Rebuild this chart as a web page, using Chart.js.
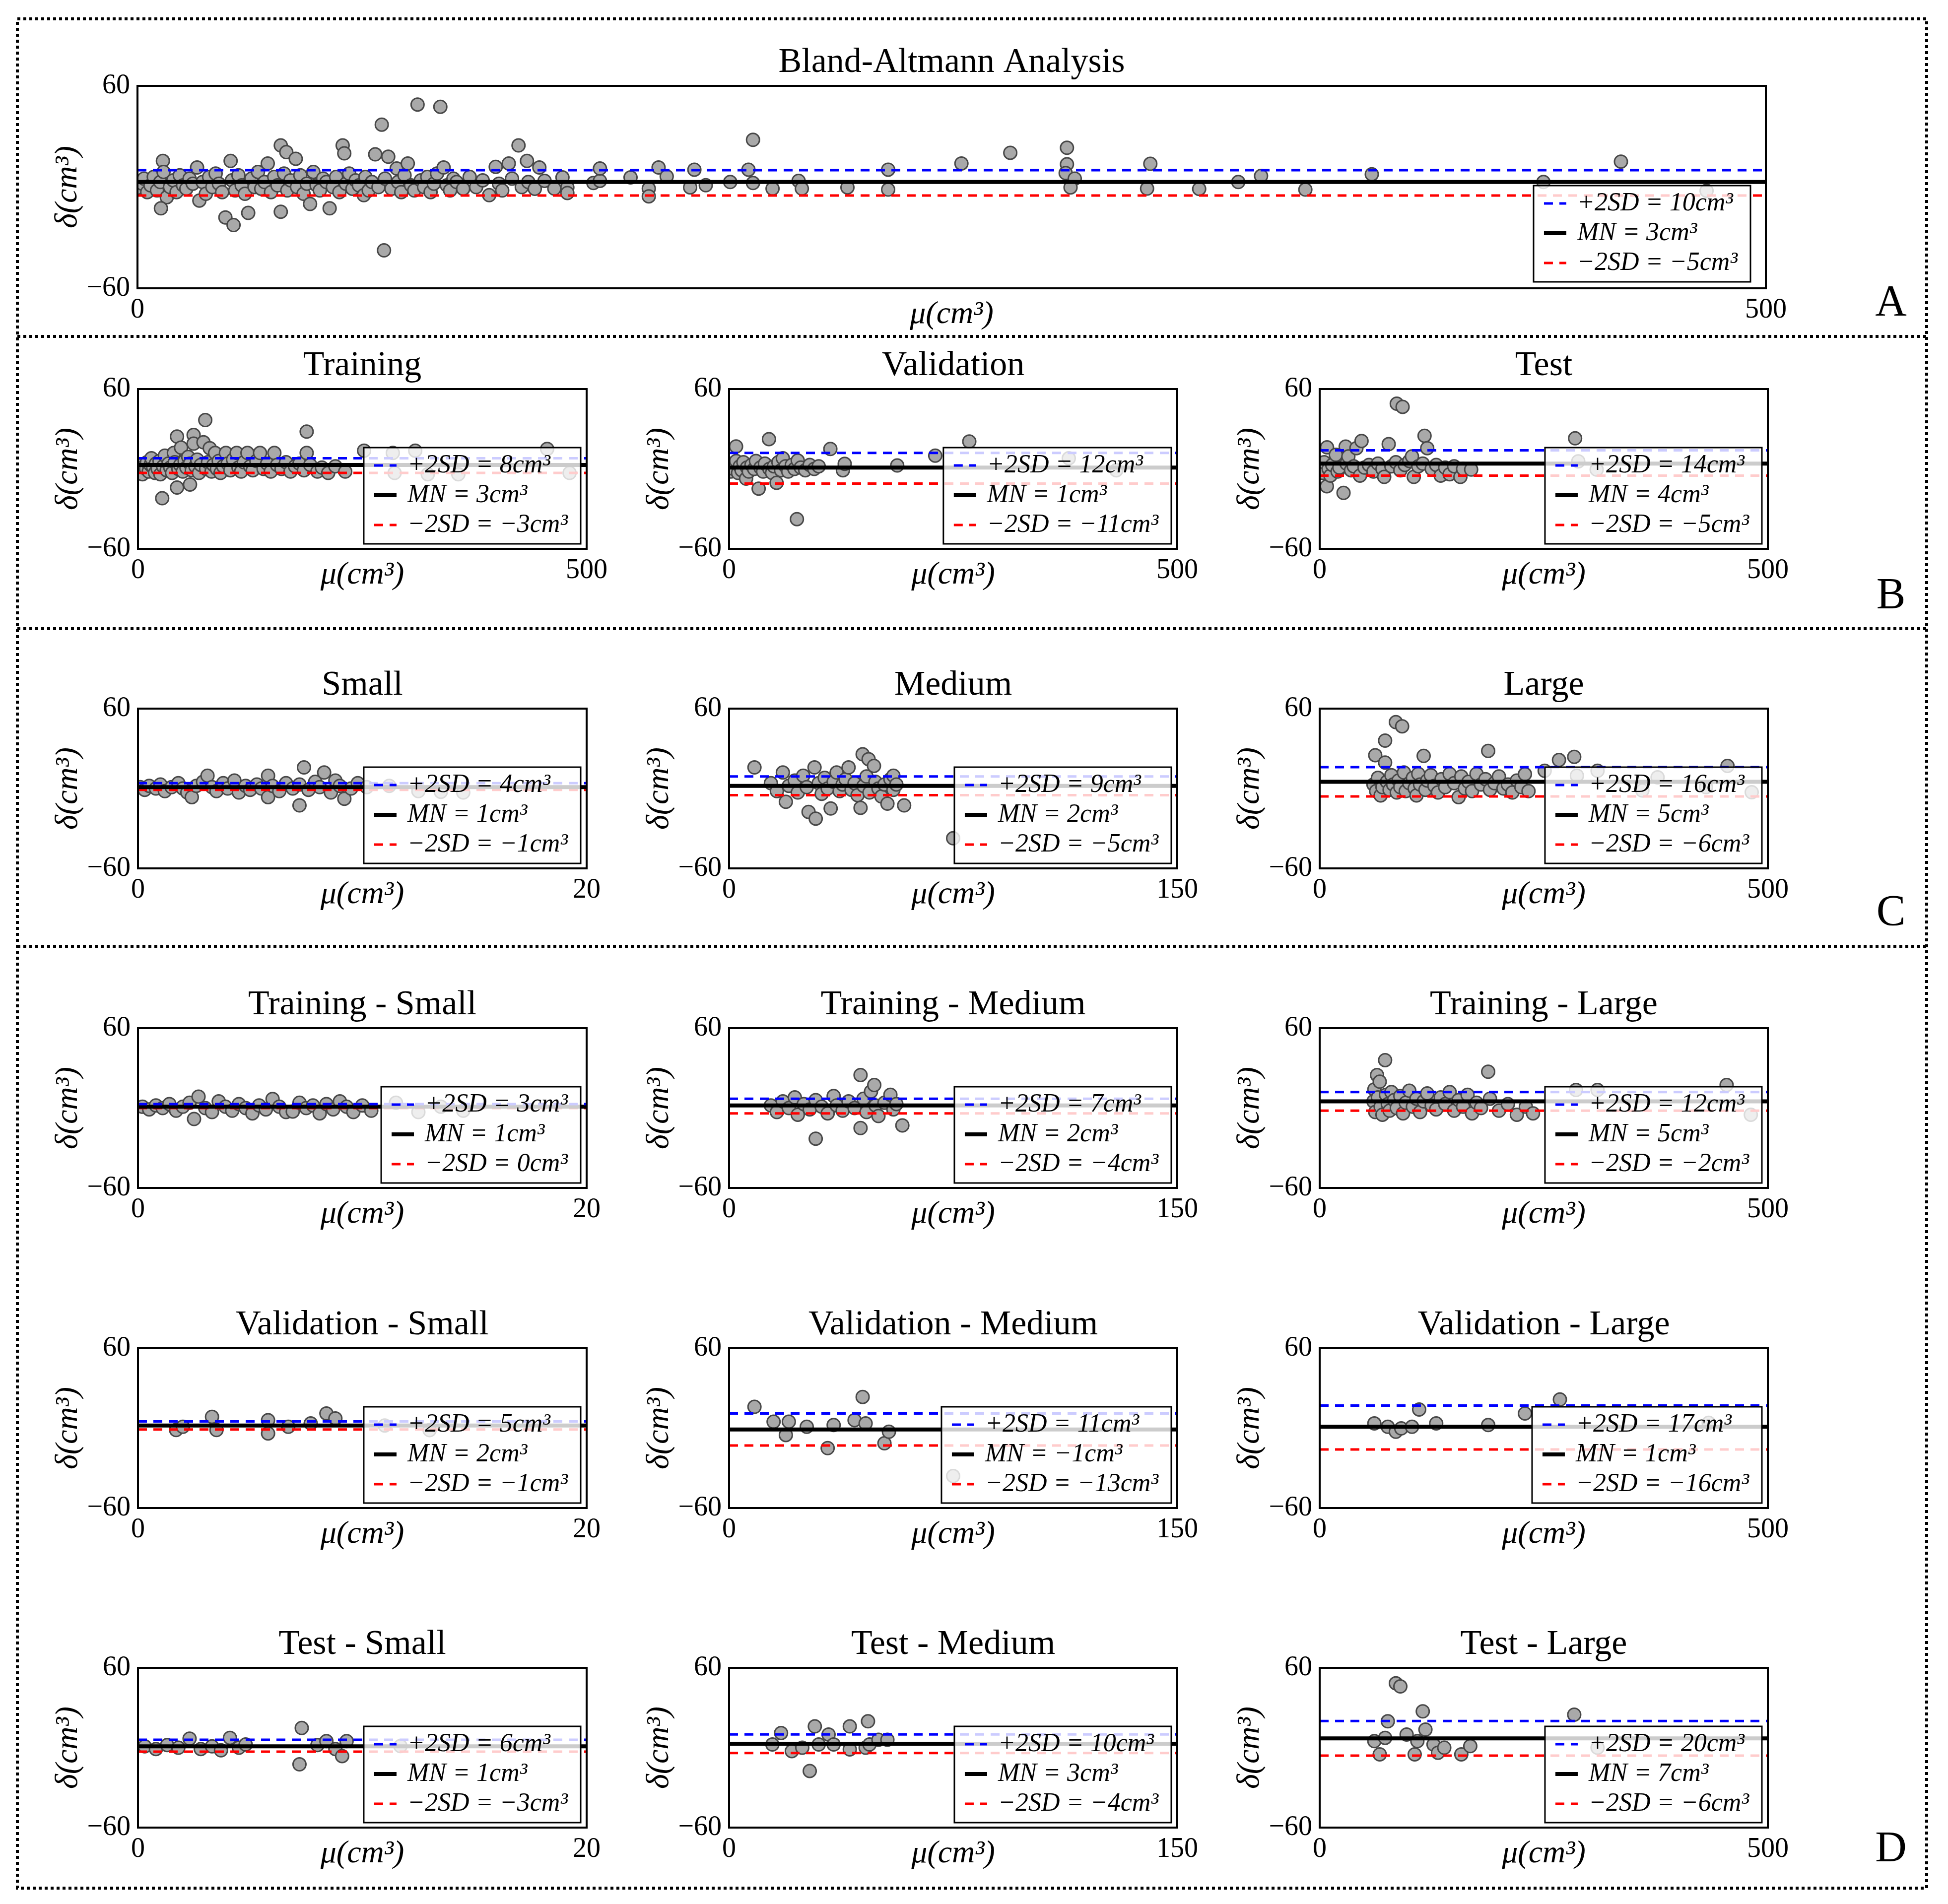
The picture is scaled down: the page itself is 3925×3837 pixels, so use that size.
<!DOCTYPE html>
<html>
<head>
<meta charset="utf-8">
<script src="https://cdn.jsdelivr.net/npm/chart.js@4.4.0/dist/chart.umd.min.js"></script>
<style>
  html, body { margin: 0; padding: 0; background: #fff; }
  #page { position: relative; width: 3925px; height: 3837px; overflow: hidden; background: #fff; }
  .letter { position: absolute; width: 100px; text-align: center; font: 88px/88px "Liberation Serif", serif; color: #000; }
</style>
</head>
<body>
<div id="page">
  <canvas id="frame" width="3925" height="3837" style="position:absolute;left:0;top:0"></canvas>
  <div class="letter" style="left:3760px;top:562px">A</div>
  <div class="letter" style="left:3760px;top:1152px">B</div>
  <div class="letter" style="left:3760px;top:1791px">C</div>
  <div class="letter" style="left:3760px;top:3678px">D</div>
</div>
<script>
// points are [mean volume, difference] pairs
var pointsA = [[0,-0.5],[1.5,2],[2,5],[3,-3],[4,1],[5,6],[6,-2],[7,3],[7.8,15.5],[8,9],[9,-6],[7.2,-12.6],[10,0],[11,4],[12,-3],[13,7],[14,1],[15,-1],[16,5],[17,2],[18.3,11.6],[19,-8],[20,3],[21,-4],[22,6],[23,0],[24,8],[25,2],[26,-3],[27,-18],[28.6,15.5],[29.5,-22.5],[29,4],[30,-2],[31,7],[32,1],[33,-4],[34,-15.3],[35,5],[36,0],[37,9],[38,-1],[39,3],[40,14],[41,-3],[42,6],[43,1],[44,24.7],[44,-14.6],[45.7,20.7],[45,8],[46,-2],[47,4],[48.6,16.8],[49,0],[50,7],[51,-4],[52,2],[53,-10],[54,9],[55,1],[56,-2],[57,5],[58,3],[59,-12.6],[60,0],[61,6],[62,-3],[63,24.7],[63.5,20],[64,2],[65,8],[66,-1],[67,4],[68,1],[69.5,-4.8],[70,6],[71,-2],[72,3],[73,19.4],[74,0],[75,37],[75.7,-37.5],[76,5],[77,18],[78,-1],[79.6,11],[80,3],[81,-3],[82,7],[83,14],[84,1],[85,-2],[86,48.9],[87,4],[88,0],[89,6],[90,-3],[91,2],[92,8],[93,47.6],[94,11.6],[95,1],[96,-2],[97,5],[98,3],[100,-1],[102,6],[104,0],[106,4],[108,-4.8],[110,12],[111,2],[112,-2],[114,14],[115,5],[117,24.7],[118,0],[119.6,15.5],[120,3],[122,-1],[123.4,11.6],[125,3.7],[128,-0.9],[130.5,5.7],[132,-0.2],[132,-3.5],[140,2.4],[142,3.7],[142,11],[151.4,5.7],[157,-0.9],[157,-5.5],[160,11.6],[162.5,6.3],[169.7,-0.2],[171,10.3],[174.5,1.1],[182,3],[187.6,10.3],[189,2.4],[189,28],[195,-0.9],[203,3.7],[204,-0.9],[218,-0.2],[230.5,10.3],[230.5,-1.5],[253,14],[268,20.3],[285.4,23.3],[285.4,13.5],[285,8.3],[287.8,5],[286.5,-0.2],[311,13.8],[310,-0.9],[326,-1.1],[338,3],[345,6.6],[358.6,-1.5],[379,7.6],[431.7,3],[455.5,15.1],[481.8,-2.2]];

var pointsTrain = [[0,1],[2,-1],[4,3],[5,-4],[7,2],[9,0],[10,5],[12,-2],[14,3],[15,8],[17,1],[19,-3],[20,4],[22,0],[24,6],[25,-4],[27,-22],[28,2],[30,10],[32,-1],[34,4],[36,1],[38,-3],[40,12],[41,5],[43.5,24.3],[43.5,-14],[45,0],[47,3],[48,16],[50,-2],[52,6],[54,1],[56,9],[58,-11.7],[58,4],[60,-1],[62,25.5],[62,19],[64,2],[66,7],[68,-3],[70,3],[73,20],[75,36.7],[76,0],[78,5],[80,15.6],[82,-2],[84,3],[86,12],[88,0],[90,6],[92,-3],[95,2],[98,12],[100,4],[103,-1],[106,7],[110,12],[112,1],[115,-2],[118,5],[122,12],[125,2],[128,-1],[132,6],[136,12],[140,0],[144,4],[148,-2],[152,12],[155,3],[160,0],[165,5],[170,-2],[175,2],[180,4],[185,-1],[188,28],[188,12],[192,3],[200,-2],[205,1],[212,-3],[220,2],[231,-2],[252,13.7],[284,12],[286,-3],[309,13.7],[323,-4],[357,-4],[456,15],[481,-3]];
var pointsVal = [[0,1],[2,-2],[3,4],[5,0],[7.8,16.9],[8,6],[10,-3],[12,2],[14,-1],[16,5],[19,-7.3],[20,1],[22,-2],[25,3],[28,0],[30,6],[33,-14.8],[35,1],[38,-2],[40,4],[44.5,22.4],[45,0],[48,-3],[50,2],[53,-10.4],[55,5],[58,-1],[60,8],[63,2],[66,-2],[70,3],[73,0],[75.7,-37.7],[76.6,6.3],[80,1],[85,-1],[90,3],[95,0],[100,2],[113,15],[127,-1],[129,3.8],[187.6,2.6],[230,10],[268,20.6],[379,8],[432,-1]];
var pointsTest = [[0,2],[3,-3],[5,5],[8.2,16.2],[8,-13],[10,0],[12,-5],[14,3],[18,10.6],[20,-2],[22,1],[26.6,-18],[29,16.8],[30,4],[32,9.4],[35,-1],[38,2],[41,15.6],[45,-5],[46.7,21],[50,1],[55,3],[60,-2],[65,4],[70,0],[72,-6],[77,18.6],[80,2],[85,5],[86,49],[90,-1],[92.5,46.6],[95,3],[100,6],[103,9.4],[105,-6],[110,2],[115,4],[117,24.9],[120,15.6],[125,0],[130,3],[135,-5],[140,1],[145,-4],[150,2],[157,-6],[160,0],[169,-0.5],[285,23],[288.5,5.7],[309,-0.5]];

var pointsSmall = [[0.1,1],[0.3,-1],[0.5,2],[0.8,0],[1,3],[1.2,-2],[1.5,1],[1.8,4],[2,0],[2.2,-3],[2.4,-6.5],[2.6,2],[2.9,5],[3.1,9.6],[3.3,1],[3.5,-2],[3.8,4],[4,0],[4.3,6],[4.5,-3],[4.8,2],[5,-1],[5.3,3],[5.5,0],[5.8,9.6],[5.8,-6.5],[6,2],[6.3,-2],[6.6,4],[6.9,0],[7.2,-12.7],[7.2,3],[7.4,15.8],[7.6,-1],[7.9,5],[8.1,1],[8.3,12],[8.6,-3],[8.8,6],[9,2],[9.2,-7.7],[9.5,0],[9.8,4],[10.2,1],[11.2,2],[12.5,-2],[13.5,-2.5],[14.5,-3]];
var pointsMedium = [[8.5,15.8],[14,4],[16,-2],[18,12],[19,-10],[20,2],[22,6],[23,-3],[24.8,9.6],[26,1],[26.6,-17.6],[28.6,15.8],[29,-22.6],[30,4],[31,-4],[32,8],[33,0],[34,-15],[35,5],[36,12],[37,-2],[38,3],[39,7],[40,15.8],[41,-1],[42,4],[43,-5],[44,-14.5],[44.7,25.7],[45,2],[46,9],[46.7,22],[47,-3],[48.5,17],[49,5],[50,0],[51,-6],[52,3],[53,-11.4],[54,7],[55,9.6],[55,-1],[56,3],[58.6,-12.7],[75,-37.4]];
var pointsLarge = [[60,3],[62,25],[63,-2],[65,8],[68,-5.2],[70,1],[73,36],[73,19.5],[75,5],[78,-1],[80,10],[82,3],[85,49.8],[86,-3],[88,6],[90,1],[92,46.7],[94,12],[96,-2],[100,4],[104,8],[106,0],[108,-5.2],[110,11],[112,3],[116,24.5],[118,-1],[120,6],[124,10],[128,2],[132,-3],[136,7],[140,1],[145,11],[150,4],[155,-6.5],[158,9],[162,0],[166,5],[170,-2],[175,11],[180,3],[185,7],[188,28.2],[190,-1],[195,4],[200,9],[205,0],[210,3],[215,-3],[220,6],[225,1],[229,10.8],[233,-2],[251,13.3],[267,21.4],[284,23.8],[287,9.6],[310,13.3],[360,-1.5],[377,8.4],[431,1],[455,17],[482,-2.8]];

var pointsTrS = [[0.2,1],[0.5,-1],[0.8,2],[1.1,0],[1.4,3],[1.7,-2],[2,1],[2.3,4],[2.5,-8.2],[2.7,8.6],[3,0],[3.3,-3],[3.6,5],[3.9,1],[4.2,-2],[4.5,3],[4.8,0],[5.1,-4],[5.4,2],[5.7,-1],[6,6.8],[6.3,1],[6.6,-3],[6.9,-2.6],[7.2,4],[7.5,0],[7.8,2],[8.1,-4],[8.4,3],[8.7,-1],[9,5],[9.3,1],[9.6,-3],[10,2],[10.4,-2],[11.5,4],[12.5,-3],[13.5,1],[14.5,-2]];
var pointsTrM = [[14,2],[16,-3],[18,5],[20,0],[22,8],[23,-5],[25,3],[27,-1],[29,-23],[29,6],[31,1],[33,-4],[35,9],[36,2],[38,-2],[40,5],[42,0],[44,24.8],[44,-15],[45,7],[46,-3],[47.5,12.4],[48.6,17.3],[49,2],[50,-6],[52,4],[54,10],[55,-1],[56,3],[58,-13]];
var pointsTrL = [[60,5],[61,14],[62,-3],[64,24.8],[65,8],[67,19.8],[68,1],[70,-5],[73,36],[74,10],[76,3],[78,-2],[80,12],[83,6],[86,0],[90,9],[93,-4],[96,4],[100,13],[104,1],[108,7],[112,-3],[116,5],[120,11],[125,2],[130,-1],[135,8],[140,3],[145,12],[150,-2],[155,6],[160,1],[165,10],[170,-4],[175,4],[180,0],[188,27.3],[190,7],[200,-2],[210,3],[220,-5],[230,1],[238,-4],[286,13.6],[310,13.6],[454,17.3],[481,-5]];
var pointsVaS = [[1.7,-1.4],[2,1],[3.3,8.5],[3.5,-1.4],[5.8,6],[5.8,-4],[6.7,1],[7.7,3.5],[8.4,11],[8.8,7.3],[11,2],[13,-1.5]];
var pointsVaM = [[8.5,16],[14.9,4.8],[19,-5.2],[20,4.8],[26,1],[33,-15],[35,2.3],[42,6],[44.7,23.4],[45.7,3.5],[52,-11.4],[53.5,-2.7],[75,-36]];
var pointsVaL = [[61,3.5],[76,1],[85,-2.7],[91,-0.2],[103,1],[111,14],[130,3.5],[188,2.3],[229,11],[268,21.5],[434,4]];
var pointsTeS = [[0.3,1],[0.8,-1],[1.3,2],[1.8,0],[2.3,6.8],[2.8,-1],[3.3,1],[3.7,-2],[4.1,7.4],[4.5,0],[4.8,2.4],[7.2,-12.5],[7.3,14.8],[8,2],[8.4,4.9],[8.8,-1],[9.1,-6.3],[9.3,4.9],[11.7,1.2]];
var pointsTeM = [[14.5,2.4],[17.4,11],[21,-2.6],[24.5,0],[27,-17.5],[28.7,16],[30,2.4],[33.3,9.9],[35,2.4],[40.4,16],[40.4,-1.3],[45.7,0],[46.5,19.8],[47,2.4],[50,6],[53,6]];
var pointsTeL = [[61,4.9],[67,-5],[73,7.4],[76,19.8],[85,48.4],[90,46],[97,9.9],[106,-5],[109,4.9],[115,27.3],[118,13.6],[127,2.4],[132,-3.8],[139,0],[158,-5],[168,1.2],[284,24.8],[310,0]];

// [+2SD, MN, -2SD]
var statsA = [10, 3, -5];
var statsTrain = [8, 3, -3], statsVal = [12, 1, -11], statsTest = [14, 4, -5];
var statsSmall = [4, 1, -1], statsMedium = [9, 2, -5], statsLarge = [16, 5, -6];
var statsTrS = [3, 1, 0], statsTrM = [7, 2, -4], statsTrL = [12, 5, -2];
var statsVaS = [5, 2, -1], statsVaM = [11, -1, -13], statsVaL = [17, 1, -16];
var statsTeS = [6, 1, -3], statsTeM = [10, 3, -4], statsTeL = [20, 7, -6];

// only the axis ends are labelled
var yTicks = [-60, 60];

Chart.defaults.font.family = '"Liberation Serif", serif';
Chart.defaults.color = '#000';

var cols = [[278, 1182], [1469, 2372], [2659, 3562]];
var rowB = [784, 1106], rowC = [1428, 1750], rowD1 = [2072, 2394], rowD2 = [2717, 3039], rowD3 = [3361, 3683];

var panels = [
  {title: 'Bland-Altmann Analysis', x: [277, 3558], y: [173, 581], xMax: 500, points: pointsA, stats: statsA, legRight: 31, legBottom: 13},
  {title: 'Training', x: cols[0], y: rowB, xMax: 500, points: pointsTrain, stats: statsTrain},
  {title: 'Validation', x: cols[1], y: rowB, xMax: 500, points: pointsVal, stats: statsVal},
  {title: 'Test', x: cols[2], y: rowB, xMax: 500, points: pointsTest, stats: statsTest},
  {title: 'Small', x: cols[0], y: rowC, xMax: 20, points: pointsSmall, stats: statsSmall},
  {title: 'Medium', x: cols[1], y: rowC, xMax: 150, points: pointsMedium, stats: statsMedium},
  {title: 'Large', x: cols[2], y: rowC, xMax: 500, points: pointsLarge, stats: statsLarge},
  {title: 'Training - Small', x: cols[0], y: rowD1, xMax: 20, points: pointsTrS, stats: statsTrS},
  {title: 'Training - Medium', x: cols[1], y: rowD1, xMax: 150, points: pointsTrM, stats: statsTrM},
  {title: 'Training - Large', x: cols[2], y: rowD1, xMax: 500, points: pointsTrL, stats: statsTrL},
  {title: 'Validation - Small', x: cols[0], y: rowD2, xMax: 20, points: pointsVaS, stats: statsVaS},
  {title: 'Validation - Medium', x: cols[1], y: rowD2, xMax: 150, points: pointsVaM, stats: statsVaM},
  {title: 'Validation - Large', x: cols[2], y: rowD2, xMax: 500, points: pointsVaL, stats: statsVaL},
  {title: 'Test - Small', x: cols[0], y: rowD3, xMax: 20, points: pointsTeS, stats: statsTeS},
  {title: 'Test - Medium', x: cols[1], y: rowD3, xMax: 150, points: pointsTeM, stats: statsTeM},
  {title: 'Test - Large', x: cols[2], y: rowD3, xMax: 500, points: pointsTeL, stats: statsTeL}
];

function fmt(v) {
  return v < 0 ? '\u2212' + Math.abs(v) : String(v);
}

// dotted panel borders
(function() {
  var ctx = document.getElementById('frame').getContext('2d');
  ctx.strokeStyle = '#000';
  ctx.lineWidth = 6;
  ctx.setLineDash([6, 6]);
  ctx.strokeRect(35, 38, 3847, 3767);
  [678, 1267, 1907].forEach(function(y) {
    ctx.beginPath();
    ctx.moveTo(35, y);
    ctx.lineTo(3882, y);
    ctx.stroke();
  });
})();

// axes frame + legend box inside the plot
var frameLegend = {
  id: 'frameLegend',
  afterDatasetsDraw: function(chart, args, opts) {
    var ctx = chart.ctx, a = chart.chartArea;
    ctx.save();
    ctx.strokeStyle = '#000';
    ctx.lineWidth = 4;
    ctx.strokeRect(a.left, a.top, a.right - a.left, a.bottom - a.top);

    var items = chart.data.datasets.filter(function(d) { return d.showLine; });
    ctx.font = 'italic 52px "Liberation Serif"';
    var tw = 0;
    items.forEach(function(d) { tw = Math.max(tw, ctx.measureText(d.label).width); });
    var w = tw + 114, h = 194;
    var x = a.right - opts.right - w, y = a.bottom - opts.bottom - h;
    ctx.fillStyle = 'rgba(255,255,255,0.8)';
    ctx.fillRect(x, y, w, h);
    ctx.lineWidth = 3;
    ctx.strokeRect(x, y, w, h);
    items.forEach(function(d, i) {
      var cy = y + 36 + i * 60;
      ctx.beginPath();
      ctx.setLineDash(d.borderDash || []);
      ctx.lineWidth = d.borderWidth;
      ctx.strokeStyle = d.borderColor;
      ctx.moveTo(x + 21, cy);
      ctx.lineTo(x + 66, cy);
      ctx.stroke();
      ctx.setLineDash([]);
      ctx.fillStyle = '#000';
      ctx.textBaseline = 'middle';
      ctx.textAlign = 'left';
      ctx.fillText(d.label, x + 88, cy);
    });
    ctx.restore();
  }
};

function makeChart(p) {
  var L = 230, R = 55, T = 130, B = 110;
  var w = p.x[1] - p.x[0] + L + R, h = p.y[1] - p.y[0] + T + B;
  var canvas = document.createElement('canvas');
  canvas.width = w;
  canvas.height = h;
  canvas.style.cssText = 'position:absolute;left:' + (p.x[0] - L) + 'px;top:' + (p.y[0] - T) + 'px;width:' + w + 'px;height:' + h + 'px';
  document.getElementById('page').appendChild(canvas);

  var s = p.stats;
  var lineSet = function(label, v, color, width, dash) {
    return {label: label, data: [{x: 0, y: v}, {x: p.xMax, y: v}], showLine: true,
      borderColor: color, borderWidth: width, borderDash: dash, pointRadius: 0, order: 1};
  };

  new Chart(canvas, {
    type: 'scatter',
    data: {
      datasets: [
        lineSet('+2SD = ' + fmt(s[0]) + 'cm\u00b3', s[0], '#0000ff', 5, [18, 13]),
        lineSet('MN = ' + fmt(s[1]) + 'cm\u00b3', s[1], '#000000', 8, []),
        lineSet('\u22122SD = ' + fmt(s[2]) + 'cm\u00b3', s[2], '#ff0000', 5, [18, 13]),
        {
          label: 'points',
          data: p.points.map(function(q) { return {x: q[0], y: q[1]}; }),
          pointRadius: 13,
          pointBackgroundColor: '#a9a9a9',
          pointBorderColor: '#474747',
          pointBorderWidth: 3,
          order: 2
        }
      ]
    },
    options: {
      responsive: false,
      animation: false,
      devicePixelRatio: 1,
      events: [],
      layout: {padding: {left: 0, top: 0, right: R, bottom: 0}},
      plugins: {
        legend: {display: false},
        tooltip: {enabled: false},
        title: {
          display: true, text: p.title, fullSize: false,
          font: {size: 70, weight: 'normal'}, color: '#000',
          padding: {top: 42, bottom: 4}
        },
        frameLegend: {right: p.legRight || 12, bottom: p.legBottom || 10}
      },
      scales: {
        x: {
          type: 'linear', min: 0, max: p.xMax,
          afterBuildTicks: function(sc) { sc.ticks = [{value: 0}, {value: p.xMax}]; },
          afterFit: function(sc) { sc.height = B; },
          grid: {display: false, drawTicks: false},
          border: {display: false},
          ticks: {autoSkip: false, maxRotation: 0, padding: 11, font: {size: 56}, color: '#000', callback: fmt},
          title: {display: true, text: '\u03bc(cm\u00b3)', font: {size: 64, style: 'italic'}, color: '#000', padding: {top: 0, bottom: 18}}
        },
        y: {
          type: 'linear', min: yTicks[0], max: yTicks[1],
          afterBuildTicks: function(sc) { sc.ticks = yTicks.map(function(v) { return {value: v}; }); },
          afterFit: function(sc) { sc.width = L; },
          grid: {display: false, drawTicks: false},
          border: {display: false},
          ticks: {autoSkip: false, padding: 15, font: {size: 56}, color: '#000', callback: fmt},
          title: {display: true, text: '\u03b4(cm\u00b3)', font: {size: 64, style: 'italic'}, color: '#000', padding: {top: 52, bottom: 0}}
        }
      }
    },
    plugins: [frameLegend]
  });
}

panels.forEach(makeChart);
</script>
</body>
</html>
